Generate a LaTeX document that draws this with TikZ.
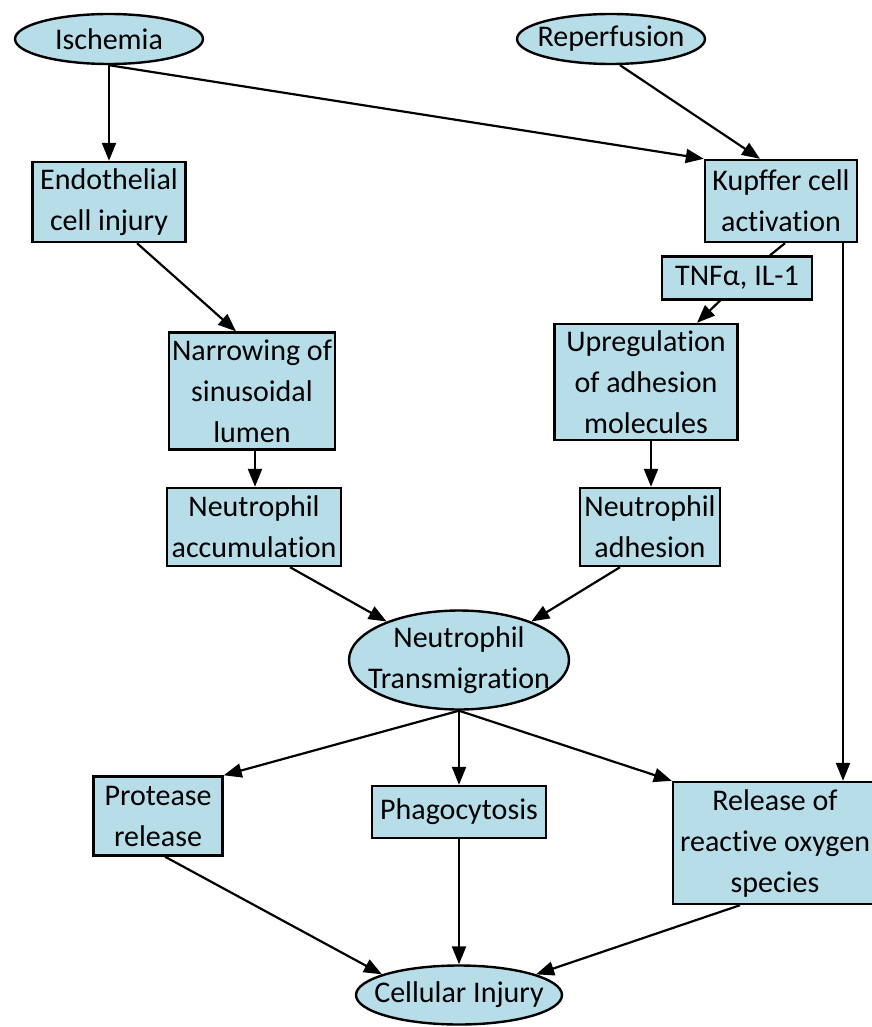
\documentclass[tikz,border=0pt]{standalone}
\usepackage{fontspec}
\setmainfont{Carlito}[Ligatures={NoCommon,NoRequired,NoContextual},Contextuals=NoAlternate]
\usepackage{tikz}
\usetikzlibrary{positioning,shapes.geometric,arrows.meta}
\definecolor{cellblue}{RGB}{183,221,232}

\begin{document}
\begin{tikzpicture}[x=1pt,y=1pt]
        \useasboundingbox (0,0) rectangle (871,-1027);
        \tikzstyle{box node}=[draw,line width=2.4pt,fill=cellblue,align=center,inner sep=0pt,font=\fontsize{30}{41}\selectfont]
        \tikzstyle{oval node}=[box node,ellipse,inner xsep=-16pt]
        \tikzstyle{arrow line}=[line width=2.2pt,-{Triangle[length=18pt,width=14pt]}]
        \node[oval node,minimum width=188pt,minimum height=50pt] (Ischemia) at (109,-39) {Ischemia};
        \node[oval node,minimum width=188pt,minimum height=50pt] (Reperfusion) [right of=Ischemia,node distance=502pt] {Reperfusion};
        \node[box node,minimum width=153pt,minimum height=80pt] (Endothelial) [below of=Ischemia,node distance=163pt] {Endothelial\\cell injury};
        \node[box node,minimum width=152pt,minimum height=82pt] (Kupffer) [below of=Reperfusion,node distance=162pt,xshift=170pt] {Kupffer cell\\activation};
        \node[box node,minimum width=150pt,minimum height=43pt] (TNF) [below of=Kupffer,node distance=77pt,xshift=-44pt] {TNF\char"03B1, IL-1};
        \node[box node,minimum width=183pt,minimum height=116pt] (Upregulation) [below of=TNF,node distance=104pt,xshift=-91pt] {Upregulation\\of adhesion\\molecules};
        \node[box node,minimum width=166pt,minimum height=117pt] (Narrowing) [below of=Endothelial,node distance=189pt,xshift=143pt] {Narrowing of\\sinusoidal\\lumen};
        \node[box node,minimum width=174pt,minimum height=78pt] (Accumulation) [below of=Narrowing,node distance=136pt,xshift=2pt] {Neutrophil\\accumulation};
        \node[box node,minimum width=140pt,minimum height=78pt] (Adhesion) [below of=Upregulation,node distance=145pt,xshift=4pt] {Neutrophil\\adhesion};
        \node[oval node,minimum width=220pt,minimum height=99pt] (Transmigration) [below of=Accumulation,node distance=133pt,xshift=205pt] {Neutrophil\\Transmigration};
        \node[box node,minimum width=174pt,minimum height=52pt] (Phagocytosis) [below of=Transmigration,node distance=152pt] {Phagocytosis};
        \node[box node,minimum width=129pt,minimum height=79pt] (Protease) [left of=Phagocytosis,node distance=301pt,yshift=-4pt] {Protease\\release};
        \node[box node,minimum width=204pt,minimum height=122pt] (ROS) [right of=Phagocytosis,node distance=316pt,yshift=-31pt] {Release of\\reactive oxygen\\species};
        \node[oval node,minimum width=206pt,minimum height=59pt] (Cellular) [below of=Phagocytosis,node distance=183pt] {Cellular Injury};

        \draw[arrow line] (Ischemia.south) -- (Ischemia.south |- Endothelial.north);
        \draw[arrow line] (Ischemia.south) -- (Kupffer.north west);
        \draw[arrow line] ([xshift=9pt]Reperfusion.south) -- ([xshift=-21pt]Kupffer.north);
        \draw[arrow line] ([xshift=28pt]Endothelial.south) -- ([xshift=-16pt]Narrowing.north);
        \draw[line width=2.2pt] ([xshift=4pt]Kupffer.south) -- ([xshift=33pt]TNF.north);
        \draw[arrow line] ([xshift=-17pt]TNF.south) -- ([xshift=51pt]Upregulation.north);
        \draw[arrow line] ([xshift=62pt]Kupffer.south) -- ([xshift=62pt]Kupffer.south |- ROS.north);
        \draw[arrow line] ([xshift=3pt]Narrowing.south) -- ([xshift=3pt]Narrowing.south |- Accumulation.north);
        \draw[arrow line] ([xshift=5pt]Upregulation.south) -- ([xshift=5pt]Upregulation.south |- Adhesion.north);
        \draw[arrow line] ([xshift=36pt]Accumulation.south) -- (Transmigration.152);
        \draw[arrow line] ([xshift=-30pt]Adhesion.south) -- (Transmigration.28);
        \draw[arrow line] (Transmigration.south) -- (Protease.north east);
        \draw[arrow line] (Transmigration.south) -- (Phagocytosis.north);
        \draw[arrow line] (Transmigration.south) -- (ROS.north west);
        \draw[arrow line] ([xshift=7pt]Protease.south) -- (Cellular.165);
        \draw[arrow line] (Phagocytosis.south) -- (Cellular.north);
        \draw[arrow line] ([xshift=-35pt]ROS.south) -- (Cellular.15);
    \end{tikzpicture}
\end{document}
